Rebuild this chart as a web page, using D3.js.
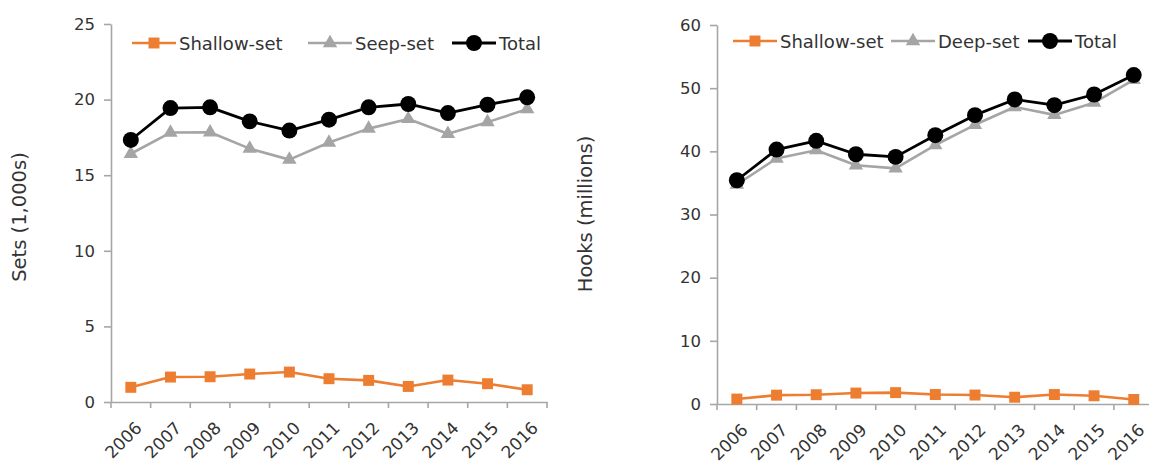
<!DOCTYPE html>
<html>
<head>
<meta charset="utf-8">
<script src="https://cdn.jsdelivr.net/npm/d3@7"></script>
<style>
  html, body { margin: 0; padding: 0; background: #fff; }
  svg { display: block; }
  text { font-family: "DejaVu Sans", Verdana, sans-serif; fill: #333; }
</style>
</head>
<body>
<svg id="chart" width="1149" height="464"></svg>
<script>
// ---- data ----
const years = ["2006","2007","2008","2009","2010","2011","2012","2013","2014","2015","2016"];

const setsShallow = [0.97, 1.65, 1.67, 1.85, 1.98, 1.54, 1.43, 1.03, 1.45, 1.21, 0.81];
const setsDeep    = [16.42, 17.82, 17.84, 16.76, 16.03, 17.16, 18.08, 18.72, 17.74, 18.51, 19.37];
const setsTotal   = [17.33, 19.44, 19.49, 18.56, 17.95, 18.67, 19.49, 19.71, 19.11, 19.66, 20.15];

const hooksShallow = [0.78, 1.40, 1.47, 1.73, 1.80, 1.50, 1.42, 1.07, 1.50, 1.30, 0.72];
const hooksDeep    = [34.75, 38.86, 40.18, 37.80, 37.30, 41.00, 44.20, 47.02, 45.77, 47.70, 51.32];
const hooksTotal   = [35.42, 40.28, 41.66, 39.54, 39.12, 42.55, 45.73, 48.21, 47.31, 49.00, 52.07];

const setsTicks  = [0, 5, 10, 15, 20, 25];
const hooksTicks = [0, 10, 20, 30, 40, 50, 60];

const setsLegend  = ["Shallow-set", "Seep-set", "Total"];
const hooksLegend = ["Shallow-set", "Deep-set", "Total"];

const setsTitle  = "Sets (1,000s)";
const hooksTitle = "Hooks (millions)";

// ---- styles ----
const ORANGE = "#ED7D31", GRAY = "#A5A5A5", BLACK = "#000000", AXIS = "#A6A6A6";

const svg = d3.select("#chart");

function drawPanel(cfg) {
  const g = svg.append("g");
  const x = d3.scaleBand().domain(years).range([cfg.x0, cfg.x1]).padding(0);
  const y = d3.scaleLinear().domain([0, cfg.ymax]).range([cfg.yBottom, cfg.yTop]);
  const cx = d => x(d) + x.bandwidth() / 2;

  // y axis
  const ya = g.append("g").attr("transform", `translate(${cfg.x0},0)`)
    .call(d3.axisLeft(y).tickValues(cfg.ticks).tickSize(7).tickSizeOuter(0).tickPadding(9));
  ya.select(".domain").attr("stroke", AXIS).attr("stroke-width", 1.6);
  ya.selectAll(".tick line").attr("stroke", AXIS).attr("stroke-width", 1.6);
  ya.selectAll(".tick text").style("font-size", "16.5px").style("fill", "#333")
    .style("font-family", '"DejaVu Sans", Verdana, sans-serif');

  // x axis
  const xa = g.append("g").attr("transform", `translate(0,${cfg.yBottom})`)
    .call(d3.axisBottom(x).tickSize(0).tickSizeOuter(0));
  xa.select(".domain").attr("stroke", AXIS).attr("stroke-width", 1.6);
  xa.selectAll(".tick text")
    .style("font-size", "17px").style("fill", "#333")
    .style("font-family", '"DejaVu Sans", Verdana, sans-serif')
    .attr("text-anchor", "end")
    .attr("dy", 0)
    .attr("y", 0)
    .attr("transform", "translate(12,27) rotate(-45)");
  // boundary ticks
  const bounds = years.map(d => x(d)).concat([cfg.x1]);
  g.append("g").selectAll("line").data(bounds).join("line")
    .attr("x1", d => d).attr("x2", d => d)
    .attr("y1", cfg.yBottom).attr("y2", cfg.yBottom + 6)
    .attr("stroke", AXIS).attr("stroke-width", 1.6);

  // y title
  g.append("text")
    .attr("transform", `translate(${cfg.titleX},${cfg.titleY}) rotate(-90)`)
    .attr("text-anchor", "middle").attr("dominant-baseline", "central")
    .style("font-size", "19.5px")
    .text(cfg.title);

  const line = d3.line().x((d, i) => cx(years[i])).y(d => y(d));

  // series
  const series = [
    { vals: cfg.shallow, color: ORANGE, w: 2.6, marker: "square" },
    { vals: cfg.deep,    color: GRAY,   w: 2.6, marker: "triangle" },
    { vals: cfg.total,   color: BLACK,  w: 2.8, marker: "circle" }
  ];
  const sym = {
    square: d3.symbol().type(d3.symbolSquare).size(120),
    triangle: d3.symbol().type(d3.symbolTriangle).size(90),
    circle: d3.symbol().type(d3.symbolCircle).size(200)
  };
  series.forEach(s => {
    g.append("path").datum(s.vals).attr("d", line)
      .attr("fill", "none").attr("stroke", s.color).attr("stroke-width", s.w)
      .attr("stroke-linejoin", "round");
    g.append("g").selectAll("path").data(s.vals).join("path")
      .attr("d", sym[s.marker])
      .attr("transform", (d, i) => `translate(${cx(years[i])},${y(d)})`)
      .attr("fill", s.color);
  });

  // legend
  const lg = g.append("g").attr("transform", `translate(0,${cfg.legendY})`);
  cfg.legendLabels.forEach((lab, i) => {
    const s = series[i];
    const lx = cfg.legendX[i];
    lg.append("line").attr("x1", lx).attr("x2", lx + 44).attr("y1", 0).attr("y2", 0)
      .attr("stroke", s.color).attr("stroke-width", s.w);
    lg.append("path").attr("d", sym[s.marker]).attr("transform", `translate(${lx + 22},0)`)
      .attr("fill", s.color);
    lg.append("text").attr("x", lx + 47).attr("y", 0).attr("dominant-baseline", "central")
      .style("font-size", "18px").text(lab);
  });
}

drawPanel({
  x0: 111, x1: 547, yTop: 24, yBottom: 402, ymax: 25, ticks: setsTicks,
  shallow: setsShallow, deep: setsDeep, total: setsTotal,
  title: setsTitle, titleX: 19, titleY: 217,
  legendLabels: setsLegend, legendX: [132, 308, 452], legendY: 43
});

drawPanel({
  x0: 717, x1: 1153.6, yTop: 25, yBottom: 404, ymax: 60, ticks: hooksTicks,
  shallow: hooksShallow, deep: hooksDeep, total: hooksTotal,
  title: hooksTitle, titleX: 585, titleY: 214,
  legendLabels: hooksLegend, legendX: [733, 891, 1028], legendY: 41
});
</script>
</body>
</html>
